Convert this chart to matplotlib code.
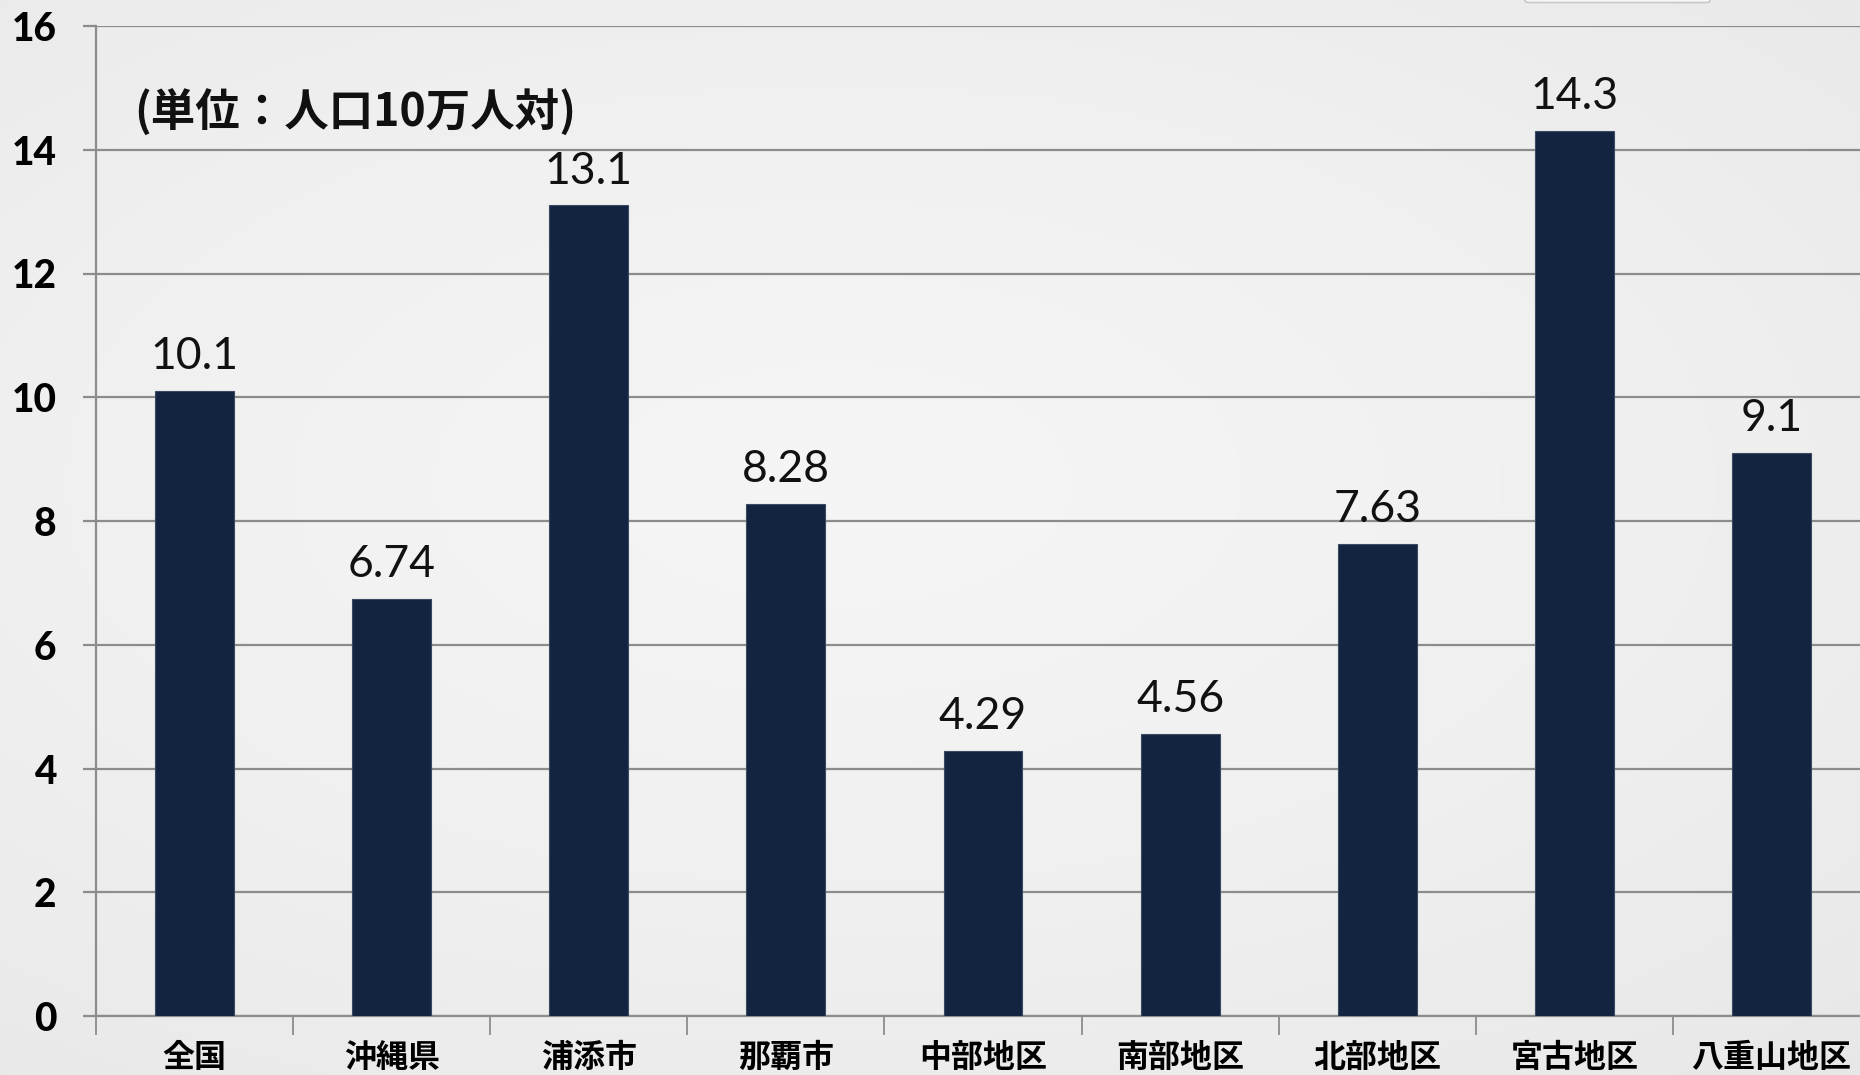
import numpy as np
import matplotlib
matplotlib.use("Agg")
import matplotlib.pyplot as plt
from matplotlib.patches import FancyBboxPatch

categories = ["全国", "沖縄県", "浦添市", "那覇市", "中部地区", "南部地区", "北部地区", "宮古地区", "八重山地区"]
values = [10.1, 6.74, 13.1, 8.28, 4.29, 4.56, 7.63, 14.3, 9.1]
value_labels = ["10.1", "6.74", "13.1", "8.28", "4.29", "4.56", "7.63", "14.3", "9.1"]
yticks = [0, 2, 4, 6, 8, 10, 12, 14, 16]
unit_text = "(単位：人口10万人対)"

W, H = 1860, 1075
fig = plt.figure(figsize=(W / 100, H / 100), dpi=100)

# background radial gradient
bg = fig.add_axes([0, 0, 1, 1])
yy, xx = np.mgrid[0:1:300j, 0:1:500j]
r = np.sqrt(((xx - 0.45) / 1.0) ** 2 + ((yy - 0.55) / 0.9) ** 2)
vals = 0.96 - 0.07 * np.clip(r, 0, 1.2) ** 1.5
bg.imshow(np.dstack([vals, vals, vals]), extent=[0, 1, 0, 1], aspect="auto", origin="lower")
bg.set_xlim(0, 1)
bg.set_ylim(0, 1)
bg.set_axis_off()
# small rounded shape peeking at top edge
bg.add_patch(FancyBboxPatch((1525 / W, 1 - 2.5 / H), 185 / W, 10 / H,
                            boxstyle="round,pad=0,rounding_size=0.002",
                            facecolor="#f7f7f7", edgecolor="#c8c8c8", linewidth=1.2))

left = 96 / W
right = 1870 / W
bottom = 1 - 1016 / H
top = 1 - 26 / H
ax = fig.add_axes([left, bottom, right - left, top - bottom])
ax.patch.set_alpha(0)

x = np.arange(len(categories))
ax.bar(x, values, width=0.40, color="#12243f", edgecolor="#3a4a63", linewidth=0.8, zorder=3)
ax.set_xlim(-0.5, len(categories) - 0.5)
ax.set_ylim(0, 16)

grid_color = "#8c8c8c"
ax.set_yticks(yticks)
ax.yaxis.grid(True, color=grid_color, linewidth=1.6, zorder=1)
ax.set_axisbelow(True)
for s in ["top", "right"]:
    ax.spines[s].set_visible(False)
ax.spines["left"].set_color(grid_color)
ax.spines["left"].set_linewidth(1.6)
ax.spines["bottom"].set_color(grid_color)
ax.spines["bottom"].set_linewidth(1.6)

ax.tick_params(axis="y", direction="out", length=9.5, width=1.6, color=grid_color, pad=19)
ax.set_yticklabels([str(t) for t in yticks], fontsize=28, fontweight="black",
                   family=["Lato", "DejaVu Sans"])

ax.set_xticks(x)
ax.set_xticklabels(categories, fontsize=23, fontweight="bold",
                   family=["Noto Sans CJK JP", "DejaVu Sans"])
ax.tick_params(axis="x", which="major", length=0, pad=19)
ax.set_xticks(np.arange(-0.5, len(categories), 1.0), minor=True)
ax.tick_params(axis="x", which="minor", direction="out", length=14, width=1.3, color=grid_color)

for xi, v, lab in zip(x, values, value_labels):
    ax.annotate(lab, (xi, v), xytext=(0, 10), textcoords="offset points",
                ha="center", va="bottom", fontsize=32,
                family=["Lato", "DejaVu Sans"], color="#111111", zorder=4)

fig.text(134 / W, 1 - 113 / H, unit_text, fontsize=32, fontweight="bold",
         family=["Noto Sans CJK JP", "DejaVu Sans"], va="center", ha="left", color="#111111")

fig.savefig("out.png", dpi=100)
